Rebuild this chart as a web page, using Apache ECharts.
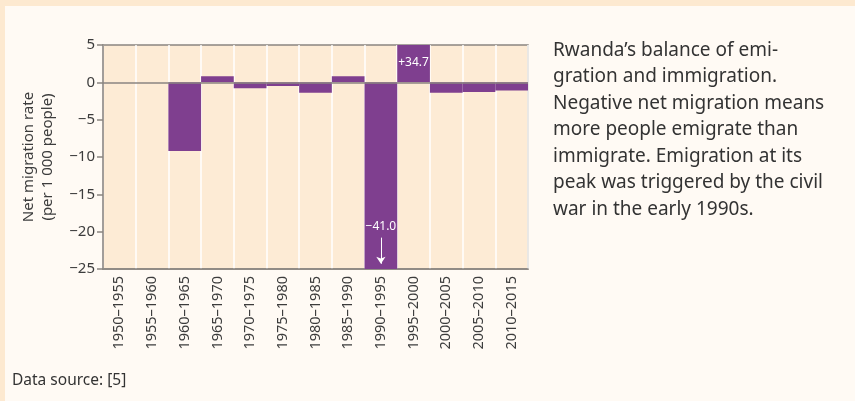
<!DOCTYPE html>
<html>
<head>
<meta charset="utf-8">
<script src="https://cdn.jsdelivr.net/npm/echarts@6/dist/echarts.min.js"></script>
<style>
  html, body { margin: 0; padding: 0; background: #fffaf4; }
  #main { width: 855px; height: 401px; }
</style>
</head>
<body>
<div id="main"></div>
<script>
  // periods and net migration (per 1 000 people)
  const periods = ["1950–1955", "1955–1960", "1960–1965", "1965–1970", "1970–1975",
    "1975–1980", "1980–1985", "1985–1990", "1990–1995", "1995–2000",
    "2000–2005", "2005–2010", "2010–2015"];
  const netMigration = [0, 0, -9.2, 0.8, -0.8, -0.5, -1.4, 0.8, -41.0, 34.7, -1.4, -1.3, -1.1];

  const purple = "#7f3f8f";
  const axisGray = "#8a8580";
  const textColor = "#3c3c3c";
  const font = "'Noto Sans', 'Open Sans', sans-serif";

  const myChart = echarts.init(document.getElementById("main"));

  const option = {
    backgroundColor: "#fffaf4",
    animation: false,
    textStyle: { fontFamily: font },
    grid: {
      left: 103, right: 327, top: 45, bottom: 132,
      show: true, backgroundColor: "#fdebd5",
      borderColor: axisGray, borderWidth: 1.5
    },
    xAxis: {
      type: "category",
      data: periods,
      axisLine: { onZero: false, lineStyle: { color: axisGray, width: 1.5 } },
      axisTick: { show: false },
      splitLine: { show: true, lineStyle: { color: "#ffffff", width: 1.5 } },
      axisLabel: {
        rotate: 90, color: textColor, fontSize: 14.5, fontFamily: font, margin: 7
      }
    },
    yAxis: {
      type: "value",
      min: -25, max: 5, interval: 5,
      name: "Net migration rate\n(per 1 000 people)",
      nameLocation: "middle",
      nameGap: 46,
      nameTextStyle: { color: textColor, fontSize: 15, lineHeight: 19, fontFamily: font },
      axisLine: { show: true, lineStyle: { color: axisGray, width: 1.5 } },
      axisTick: { show: true, length: 6, lineStyle: { color: axisGray, width: 1.5 } },
      splitLine: { show: false },
      axisLabel: {
        color: textColor, fontSize: 15, fontFamily: font, margin: 8,
        formatter: function (v) { return String(v).replace("-", "−"); }
      }
    },
    series: [
      {
        type: "bar",
        data: netMigration.map(function (v, i) {
          const item = { value: v };
          if (i === 9) {
            item.label = {
              show: true, position: "insideTop", distance: 12,
              formatter: "+34.7", color: "#ffffff", fontSize: 12
            };
          }
          return item;
        }),
        barCategoryGap: "0%",
        itemStyle: { color: purple },
        clip: true,
        z: 1,
        markLine: {
          silent: true,
          symbol: "none",
          label: { show: false },
          lineStyle: { color: axisGray, width: 1.5, type: "solid" },
          data: [{ yAxis: 0 }]
        },
        markPoint: {
          silent: true,
          symbol: "rect",
          symbolSize: 1,
          itemStyle: { color: "rgba(0,0,0,0)" },
          label: {
            show: true, color: "#ffffff", fontSize: 12,
            formatter: "−41.0"
          },
          data: [{ coord: [periods[8], -19.3] }]
        }
      },
      {
        // arrow under the −41.0 label, pointing off the bottom of the scale
        type: "line",
        data: [],
        markLine: {
          silent: true,
          symbol: ["none", "arrow"],
          symbolSize: 7,
          label: { show: false },
          lineStyle: { color: "#ffffff", width: 1, type: "solid" },
          data: [[{ coord: [periods[8], -20.8] }, { coord: [periods[8], -24.3] }]]
        }
      }
    ],
    graphic: [
      { type: "rect", left: 0, top: 0, shape: { width: 855, height: 6 }, style: { fill: "#fde9d0" } },
      { type: "rect", left: 0, top: 0, shape: { width: 5, height: 401 }, style: { fill: "#fde9d0" } },
      {
        type: "text", left: 553, top: 37,
        style: {
          text: "Rwanda’s balance of emi-\ngration and immigration.\nNegative net migration means\nmore people emigrate than\nimmigrate. Emigration at its\npeak was triggered by the civil\nwar in the early 1990s.",
          font: "19px " + font, lineHeight: 26.5, fill: "#333333"
        }
      },
      {
        type: "text", left: 12, top: 373,
        style: { text: "Data source: [5]", font: "15.5px " + font, fill: "#333333" }
      }
    ]
  };

  option && myChart.setOption(option);
</script>
</body>
</html>
